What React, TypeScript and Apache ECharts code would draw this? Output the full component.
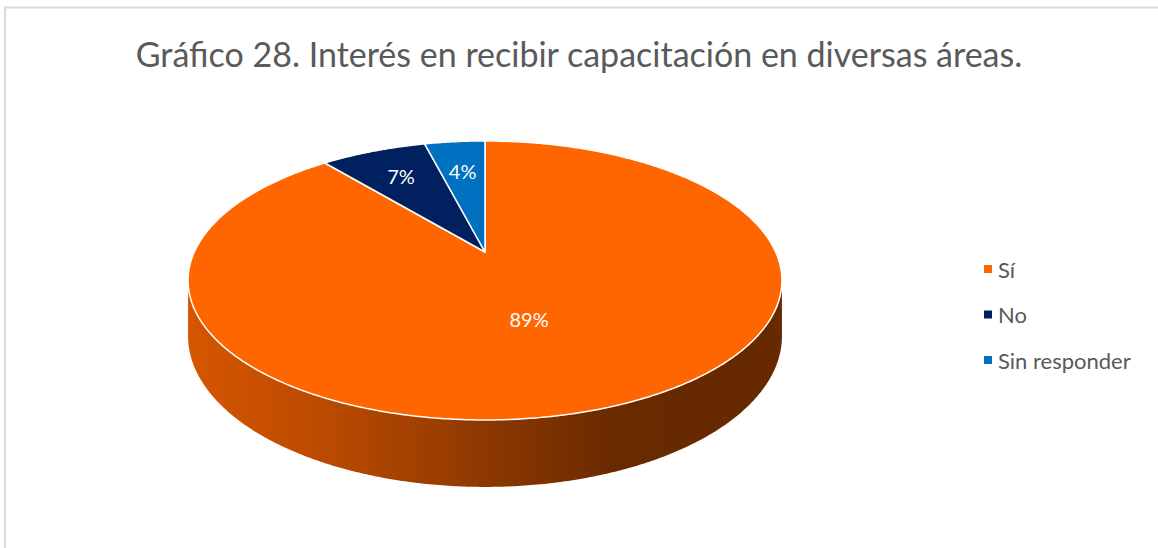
import React, { useEffect, useRef } from "react";
import * as echarts from "echarts";

const TITLE = "Gráfico 28. Interés en recibir capacitación en diversas áreas.";
const CATEGORIES = ["Sí", "No", "Sin responder"];
const VALUES = [89, 7, 4];
const COLORS = ["#FF6600", "#002060", "#0070C0"];
const LABEL_RADIUS = [0.48, 0.72, 0.7];

// pie geometry (3D perspective look)
const CX = 485;
const CY = 252;
const RX = 290.7;
const RZ = 133.7;
const PERSP = 0.204;
const WALL = 53.3;
const FONT = "Lato, 'Open Sans', sans-serif";

const DEG = Math.PI / 180;

function project(phiDeg: number, r: number): [number, number, number] {
  const p = phiDeg * DEG;
  const x = r * Math.sin(p);
  const z = -r * Math.cos(p);
  const s = 1 / (1 - PERSP * z);
  return [CX + RX * x * s, CY + RZ * z * s, s];
}

function shade(hex: string, k: number): string {
  const n = parseInt(hex.slice(1), 16);
  const r = Math.round(((n >> 16) & 255) * k);
  const g = Math.round(((n >> 8) & 255) * k);
  const b = Math.round((n & 255) * k);
  return `rgb(${r},${g},${b})`;
}

function arc(a0: number, a1: number, step = 0.5): number[] {
  const out: number[] = [];
  const n = Math.max(1, Math.ceil((a1 - a0) / step));
  for (let i = 0; i <= n; i++) out.push(a0 + ((a1 - a0) * i) / n);
  return out;
}

export default function App() {
  const ref = useRef<HTMLDivElement>(null);

  useEffect(() => {
    document.body.style.margin = "0";
    if (!ref.current) return;
    const chart = echarts.init(ref.current, undefined, { renderer: "svg" });

    // fit title width
    let titleSize = 30;
    try {
      const ctx = document.createElement("canvas").getContext("2d");
      if (ctx) {
        ctx.font = `30px ${FONT}`;
        const w = ctx.measureText(TITLE).width;
        if (w > 0) titleSize = Math.max(26, Math.min(34, (30 * 897) / w));
      }
    } catch (e) {}

    const total = VALUES.reduce((a, b) => a + b, 0);
    const starts: number[] = [];
    let acc = 0;
    VALUES.forEach((v) => {
      starts.push((acc / total) * 360);
      acc += v;
    });

    const visA = Math.acos(-PERSP) / DEG; // ~101.8
    const visB = 360 - visA;
    const leftX = CX - RX / Math.sqrt(1 - PERSP * PERSP);
    const rightX = CX + RX / Math.sqrt(1 - PERSP * PERSP);

    const series = CATEGORIES.map((name, i) => ({
      type: "custom",
      name,
      coordinateSystem: "none",
      data: [VALUES[i]],
      itemStyle: { color: COLORS[i] },
      renderItem: (params: any, api: any) => {
        const v = api.value(0);
        const a0 = starts[i];
        const a1 = a0 + (v / total) * 360;
        const children: any[] = [];
        // wall
        const w0 = Math.max(a0, visA);
        const w1 = Math.min(a1, visB);
        if (w1 > w0) {
          const angs = arc(w0, w1);
          const top = angs.map((a) => project(a, 1));
          const pts: number[][] = top.map((p) => [p[0], p[1]]);
          for (let k = top.length - 1; k >= 0; k--) {
            pts.push([top[k][0], top[k][1] + WALL * top[k][2]]);
          }
          children.push({
            type: "polygon",
            shape: { points: pts },
            style: {
              fill: {
                type: "linear",
                x: leftX,
                y: 0,
                x2: rightX,
                y2: 0,
                global: true,
                colorStops: [
                  { offset: 0, color: shade(COLORS[i], 0.84) },
                  { offset: 0.25, color: shade(COLORS[i], 0.72) },
                  { offset: 0.52, color: shade(COLORS[i], 0.54) },
                  { offset: 0.72, color: shade(COLORS[i], 0.41) },
                  { offset: 1, color: shade(COLORS[i], 0.4) },
                ],
              },
              stroke: "none",
            },
          });
        }
        // top face
        const facePts: number[][] = [[CX, CY]];
        arc(a0, a1).forEach((a) => {
          const p = project(a, 1);
          facePts.push([p[0], p[1]]);
        });
        children.push({
          type: "polygon",
          shape: { points: facePts },
          style: {
            fill: COLORS[i],
            stroke: "#ffffff",
            lineWidth: 1.5,
            lineJoin: "round",
          },
        });
        // label
        const mid = (a0 + a1) / 2;
        const lp = project(mid, LABEL_RADIUS[i]);
        children.push({
          type: "text",
          x: lp[0] - (i === 0 ? 8 : 0),
          y: lp[1],
          style: {
            text: Math.round((v / total) * 100) + "%",
            fill: "#ffffff",
            font: `20px ${FONT}`,
            align: "center",
            verticalAlign: "middle",
          },
        });
        return { type: "group", children };
      },
    }));

    chart.setOption({
      animation: false,
      backgroundColor: "#ffffff",
      title: {
        text: TITLE,
        left: "center",
        top: 36,
        padding: 0,
        textStyle: {
          color: "#5a5a5a",
          fontFamily: FONT,
          fontWeight: "normal",
          fontSize: titleSize,
        },
      },
      legend: {
        data: CATEGORIES,
        orient: "vertical",
        left: 979,
        top: 252,
        icon: "rect",
        itemWidth: 8,
        itemHeight: 8,
        itemGap: 21.5,
        textStyle: {
          color: "#595959",
          fontFamily: FONT,
          fontSize: 22,
          lineHeight: 24,
          padding: [0, 0, 0, 1],
        },
      },
      graphic: [
        {
          type: "rect",
          shape: { x: 5, y: 7.5, width: 1200, height: 600 },
          style: { fill: "none", stroke: "#d9d9d9", lineWidth: 2 },
          silent: true,
          z: -10,
        },
      ],
      series,
    });

    return () => chart.dispose();
  }, []);

  return <div ref={ref} style={{ width: 1158, height: 548 }} />;
}
